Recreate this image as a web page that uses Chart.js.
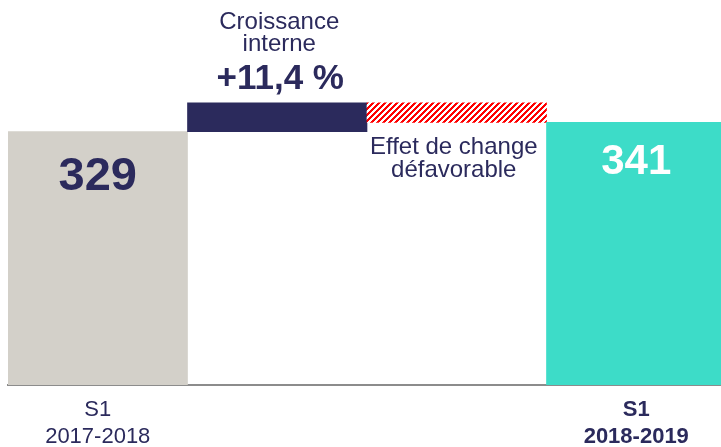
<!DOCTYPE html>
<html>
<head>
<meta charset="utf-8">
<script src="https://cdn.jsdelivr.net/npm/chart.js@4.4.0/dist/chart.umd.min.js"></script>
<style>
  html, body { margin: 0; padding: 0; background: #fff; overflow: hidden; }
  #wrap { width: 726px; height: 447px; position: relative; }
</style>
</head>
<body>
<div id="wrap"><canvas id="bridge"></canvas></div>
<script>
// waterfall values (M€)
const categories = ['S1 2017-2018', 'Croissance interne', 'Effet de change', 'S1 2018-2019'];
const tickLabels = [['S1', '2017-2018'], '', '', ['S1', '2018-2019']];
const startValue = 329;
const internalGrowth = 37.5;   // +11,4 %
const fxEffect = -25.5;
const endValue = 341;
const barTexts = ['329', '', '', '341'];

const NAVY = '#2b2a5c';
const FONT = '"Liberation Sans", Arial, sans-serif';

// red diagonal hatch
function hatch() {
    const p = 6;
    const c = document.createElement('canvas');
    c.width = p; c.height = p;
    const g = c.getContext('2d');
    const img = g.createImageData(p, p);
    for (let y = 0; y < p; y++) {
        for (let x = 0; x < p; x++) {
            const i = (y * p + x) * 4;
            const red = (x + y) % p < 3;
            img.data[i] = 255;
            img.data[i + 1] = red ? 0 : 255;
            img.data[i + 2] = red ? 0 : 255;
            img.data[i + 3] = 255;
        }
    }
    g.putImageData(img, 0, 0);
    return document.getElementById('bridge').getContext('2d').createPattern(c, 'repeat');
}

const top1 = startValue + internalGrowth;
const floating = [
    [0, startValue],
    [startValue, top1],
    [top1 + fxEffect, top1],
    [0, endValue]
];

const labelPlugin = {
    id: 'labels',
    afterDatasetsDraw(chart) {
        const ctx = chart.ctx;
        const bars = chart.getDatasetMeta(0).data;
        ctx.save();
        ctx.textAlign = 'center';
        ctx.textBaseline = 'alphabetic';

        ctx.fillStyle = NAVY;
        ctx.font = 'bold 47px ' + FONT;
        ctx.fillText(barTexts[0], bars[0].x, 190);

        ctx.fillStyle = '#ffffff';
        ctx.font = 'bold 42px ' + FONT;
        ctx.fillText(barTexts[3], bars[3].x, 174);

        ctx.fillStyle = NAVY;
        ctx.font = '24px ' + FONT;
        ctx.fillText('Croissance', bars[1].x + 2, 29);
        ctx.fillText('interne', bars[1].x + 2, 51);
        ctx.font = 'bold 35px ' + FONT;
        ctx.fillText('+11,4 %', bars[1].x + 3, 89);

        ctx.font = '24px ' + FONT;
        ctx.fillText('Effet de change', bars[2].x - 3, 154);
        ctx.fillText('défavorable', bars[2].x - 3, 177);
        ctx.restore();
    }
};

new Chart(document.getElementById('bridge'), {
    type: 'bar',
    data: {
        labels: categories,
        datasets: [{
            data: floating,
            backgroundColor: ['#d3d0c9', NAVY, hatch(), '#3ddcc8'],
            borderWidth: 0,
            categoryPercentage: 1,
            barPercentage: 1
        }]
    },
    options: {
        responsive: true,
        maintainAspectRatio: false,
        animation: false,
        layout: { padding: { left: 8, right: 0, top: 0, bottom: 0 } },
        plugins: {
            legend: { display: false },
            tooltip: { enabled: false }
        },
        scales: {
            x: {
                afterFit: (s) => { s.height = 62; },
                grid: { display: false, drawTicks: false, tickLength: 0 },
                border: { display: true, color: '#8c8c8c', width: 2 },
                ticks: {
                    autoSkip: false,
                    maxRotation: 0,
                    padding: 12,
                    color: NAVY,
                    font: (c) => ({
                        family: FONT,
                        size: 22,
                        lineHeight: 1.2,
                        weight: c.index === 3 ? 'bold' : 'normal'
                    }),
                    callback: (v, i) => tickLabels[i]
                }
            },
            y: {
                display: false,
                min: 0,
                max: 500
            }
        }
    },
    plugins: [labelPlugin]
});
</script>
</body>
</html>
